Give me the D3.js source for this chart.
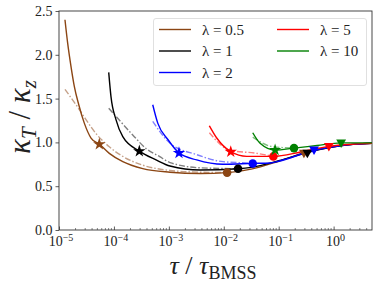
<!DOCTYPE html>
<html lang="en">
<head>
<meta charset="UTF-8">
<script src="https://cdn.jsdelivr.net/npm/d3@7"></script>
<style>
  body { margin: 0; background: #fff; }
</style>
</head>
<body>
<svg></svg>
<script>
// lambda values
const lambdas = ['0.5', '1', '2', '5', '10'];
const colors = ['#8b4513', '#000000', '#0000ff', '#ff0000', '#008000'];
const dashColors = ['#c5a189', '#808080', '#7f7fff', '#ff7f7f', '#7fbf7f'];

// solid curves: tau / tau_BMSS and kappa_T / kappa_z
const tau05 = [1.285e-5, 1.44e-5, 1.66e-5, 1.90e-5, 2.29e-5, 2.89e-5, 3.83e-5, 5.42e-5, 8.24e-5, 1.45e-4, 3.35e-4, 1.05e-3, 3.7e-3, 1.15e-2, 3.16e-2, 0.1, 0.288, 1.0, 2.5, 5];
const kap05 = [2.40, 2.13, 1.86, 1.64, 1.43, 1.22, 1.05, 0.98, 0.875, 0.78, 0.70, 0.66, 0.645, 0.655, 0.695, 0.785, 0.88, 0.95, 0.98, 0.99];
const tau1 = [8.04e-5, 8.85e-5, 1.09e-4, 1.45e-4, 2.9e-4, 5.85e-4, 1.05e-3, 3.7e-3, 1.82e-2, 3.16e-2, 0.1, 0.333, 1.0, 2.5, 5];
const kap1 = [1.80, 1.52, 1.26, 1.065, 0.90, 0.80, 0.73, 0.685, 0.70, 0.715, 0.79, 0.885, 0.95, 0.98, 0.99];
const tau2 = [5.09e-4, 6.28e-4, 9.67e-4, 1.53e-3, 3.22e-3, 9.7e-3, 3.37e-2, 7.0e-2, 0.1, 0.44, 1.0, 2.5, 5];
const kap2 = [1.43, 1.22, 1.03, 0.88, 0.80, 0.75, 0.76, 0.765, 0.785, 0.91, 0.95, 0.98, 0.99];
const tau5 = [5.47e-3, 7.45e-3, 1.34e-2, 2.62e-2, 8.0e-2, 0.25, 0.82, 2.5, 5];
const kap5 = [1.19, 1.05, 0.894, 0.84, 0.84, 0.89, 0.955, 0.982, 0.99];
const tau10 = [3.37e-2, 4.58e-2, 8.6e-2, 0.19, 0.5, 1.37, 5];
const kap10 = [1.11, 0.99, 0.913, 0.935, 0.965, 0.995, 0.995];

// dash-dot approximations
const dtau05 = [1.285e-5, 2.04e-5, 3.1e-5, 4.72e-5, 8.24e-5, 1.45e-4, 3.35e-4, 1.05e-3, 3.7e-3, 1.15e-2];
const dkap05 = [1.605, 1.43, 1.26, 1.10, 0.95, 0.84, 0.74, 0.68, 0.66, 0.655];
const dtau1 = [8.04e-5, 1.25e-4, 2.2e-4, 3.85e-4, 6.7e-4, 1.05e-3, 3.7e-3, 1.82e-2];
const dkap1 = [1.39, 1.255, 1.085, 0.93, 0.84, 0.77, 0.71, 0.70];
const dtau2 = [5.09e-4, 1.05e-3, 3.22e-3, 9.7e-3, 3.37e-2];
const dkap2 = [1.24, 0.99, 0.86, 0.78, 0.765];
const dtau5 = [5.47e-3, 1.3e-2, 4.0e-2, 8.0e-2];
const dkap5 = [1.11, 0.91, 0.875, 0.84];
const dtau10 = [3.37e-2, 7.9e-2, 0.19];
const dkap10 = [1.06, 0.95, 0.935];

// markers (one per lambda)
const starTau = [5.42e-5, 2.9e-4, 1.53e-3, 1.34e-2, 8.6e-2];
const starKap = [0.98, 0.90, 0.88, 0.894, 0.913];
const circTau = [1.15e-2, 1.82e-2, 3.37e-2, 8.0e-2, 0.19];
const circKap = [0.655, 0.70, 0.76, 0.84, 0.935];
const triTau = [0.288, 0.333, 0.44, 0.82, 1.37];
const triKap = [0.885, 0.885, 0.92, 0.96, 1.0];

const yTicks = [0, 0.5, 1.0, 1.5, 2.0, 2.5];
const xExps = [-5, -4, -3, -2, -1, 0];

const solids = [[tau05, kap05], [tau1, kap1], [tau2, kap2], [tau5, kap5], [tau10, kap10]];
const dashes = [[dtau05, dkap05], [dtau1, dkap1], [dtau2, dkap2], [dtau5, dkap5], [dtau10, dkap10]];

const serif = '"Liberation Serif"';
const W = 381, H = 284;
const svg = d3.select('svg').attr('width', W).attr('height', H);

const x = d3.scaleLog().domain([1e-5, 5]).range([59, 372]);
const y = d3.scaleLinear().domain([0, 2.5]).range([230, 11]);

svg.append('clipPath').attr('id', 'clip')
  .append('rect').attr('x', 59).attr('y', 11).attr('width', 313).attr('height', 219);

// axes
const xAxis = d3.axisBottom(x)
  .tickValues(xExps.map(e => Math.pow(10, e)))
  .tickSizeInner(-3.5).tickSizeOuter(0)
  .tickFormat('');
const gx = svg.append('g').attr('transform', 'translate(0,230)').call(xAxis);
gx.select('.domain').remove();
gx.selectAll('.tick line').attr('stroke', '#333').attr('stroke-width', 0.8);

// minor log ticks
const minor = [];
xExps.forEach(e => { for (let k = 2; k <= 9; k++) { const v = k * Math.pow(10, e); if (v < 5) minor.push(v); } });
svg.append('g').selectAll('line').data(minor).enter().append('line')
  .attr('x1', d => x(d)).attr('x2', d => x(d))
  .attr('y1', 230).attr('y2', 228)
  .attr('stroke', '#333').attr('stroke-width', 0.6);

// x tick labels 10^n
const xl = svg.append('g').selectAll('text').data(xExps).enter().append('text')
  .attr('x', d => x(Math.pow(10, d)) + 2)
  .attr('y', 246)
  .attr('text-anchor', 'middle')
  .attr('fill', '#222')
  .style('font-family', serif)
  .style('font-size', '14px');
xl.append('tspan').text('10');
xl.append('tspan').attr('dy', -5).style('font-size', '10px').text(d => d === 0 ? '0' : '\u2212' + Math.abs(d));

const yAxis = d3.axisLeft(y).tickValues(yTicks).tickSizeInner(3.5).tickSizeOuter(0).tickPadding(3)
  .tickFormat(d3.format('.1f'));
const gy = svg.append('g').attr('transform', 'translate(59,0)').call(yAxis);
gy.select('.domain').remove();
gy.selectAll('.tick line').attr('stroke', '#333').attr('stroke-width', 0.8);
gy.selectAll('.tick text').style('font-family', serif).style('font-size', '14px').attr('fill', '#222');

// frame
svg.append('rect').attr('x', 59).attr('y', 11).attr('width', 313).attr('height', 219)
  .attr('fill', 'none').attr('stroke', '#333').attr('stroke-width', 0.9);

const plot = svg.append('g').attr('clip-path', 'url(#clip)');
const line = d3.line()
  .x(d => x(d[0])).y(d => y(d[1]))
  .curve(d3.curveMonotoneX);

// dash-dot curves
plot.selectAll('path.dash').data(dashes).enter().append('path')
  .attr('class', 'dash')
  .attr('d', d => line(d3.zip(d[0], d[1])))
  .attr('fill', 'none')
  .attr('stroke', (d, i) => dashColors[i])
  .attr('stroke-width', 1.4)
  .attr('stroke-dasharray', '6,2,1.5,2');

// solid curves
plot.selectAll('path.solid').data(solids).enter().append('path')
  .attr('class', 'solid')
  .attr('d', d => line(d3.zip(d[0], d[1])))
  .attr('fill', 'none')
  .attr('stroke', (d, i) => colors[i])
  .attr('stroke-width', 1.4);

// markers
const star = d3.symbol().type(d3.symbolStar).size(48);
const circ = d3.symbol().type(d3.symbolCircle).size(58);
const tri = d3.symbol().type(d3.symbolTriangle).size(42);

lambdas.forEach((l, i) => {
  plot.append('path').attr('d', circ())
    .attr('transform', `translate(${x(circTau[i])},${y(circKap[i])})`)
    .attr('fill', colors[i]);
  plot.append('path').attr('d', star())
    .attr('transform', `translate(${x(starTau[i])},${y(starKap[i])})`)
    .attr('fill', colors[i]);
  plot.append('path').attr('d', tri())
    .attr('transform', `translate(${x(triTau[i])},${y(triKap[i])}) rotate(180)`)
    .attr('fill', colors[i]);
});

// legend
const leg = svg.append('g');
leg.append('rect').attr('x', 153.5).attr('y', 18.5).attr('width', 213).attr('height', 67).attr('rx', 2.5)
  .attr('fill', '#fff').attr('fill-opacity', 0.8).attr('stroke', '#d8d8d8').attr('stroke-width', 0.8);
const legPos = [[0, 0], [0, 1], [0, 2], [1, 0], [1, 1]];
lambdas.forEach((l, i) => {
  const cx = 159 + legPos[i][0] * 118;
  const cy = 29.5 + legPos[i][1] * 21.5;
  leg.append('line').attr('x1', cx).attr('x2', cx + 32).attr('y1', cy).attr('y2', cy)
    .attr('stroke', colors[i]).attr('stroke-width', 1.4);
  leg.append('text').attr('x', cx + 43).attr('y', cy + 5)
    .attr('fill', '#222')
    .style('font-family', serif)
    .style('font-size', '15px').text('\u03bb = ' + l);
});

// axis labels
const yl = svg.append('text')
  .attr('transform', 'translate(30,117) rotate(-90)')
  .attr('text-anchor', 'middle')
  .attr('fill', '#222')
  .style('font-family', serif)
  .style('font-size', '31px');
yl.append('tspan').style('font-style', 'italic').text('\u03ba');
yl.append('tspan').attr('dy', 6).style('font-size', '21px').style('font-style', 'italic').text('T');
yl.append('tspan').attr('dy', -6).text(' / ');
yl.append('tspan').style('font-style', 'italic').text('\u03ba');
yl.append('tspan').attr('dy', 6).style('font-size', '21px').style('font-style', 'italic').text('z');

const xlab = svg.append('text')
  .attr('x', 213).attr('y', 274)
  .attr('text-anchor', 'middle')
  .attr('fill', '#222')
  .style('font-family', serif)
  .style('font-size', '26px');
xlab.append('tspan').style('font-style', 'italic').text('\u03c4');
xlab.append('tspan').text(' / ');
xlab.append('tspan').style('font-style', 'italic').text('\u03c4');
xlab.append('tspan').attr('dy', 5).style('font-size', '18px').text('BMSS');
</script>
</body>
</html>
